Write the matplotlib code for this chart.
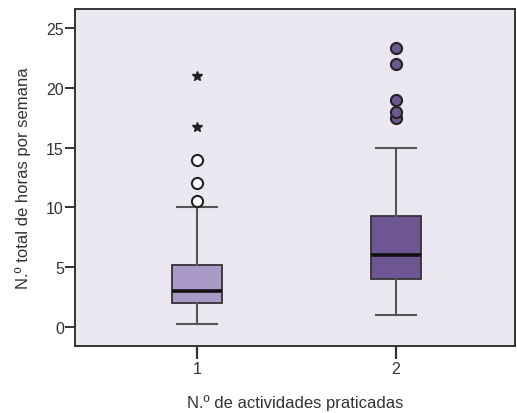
import matplotlib
matplotlib.use("Agg")
import matplotlib.pyplot as plt

plt.rcParams['font.family'] = ['Liberation Sans', 'DejaVu Sans']

categories = ["1", "2"]
whislo = [0.2, 1.0]
q1 = [2.0, 4.0]
med = [3.0, 6.0]
q3 = [5.2, 9.25]
whishi = [10.0, 15.0]
outliers_1 = [10.5, 12.0, 14.0]
extremes_1 = [16.7, 21.0]
outliers_2 = [17.5, 18.0, 19.0, 22.0, 23.3]
extremes_2 = []
box_colors = ["#A899C6", "#6E5694"]
outlier_faces = ["white", "#6E5694"]

fig = plt.figure(figsize=(5.17, 4.14), dpi=100)
ax = fig.add_axes([0.145, 0.162, 0.851, 0.814])
ax.set_facecolor("#ECE8F1")

stats = []
for i in range(2):
    stats.append(dict(whislo=whislo[i], q1=q1[i], med=med[i], q3=q3[i],
                      whishi=whishi[i], fliers=[], label=categories[i]))
positions = [1, 2]
bp = ax.bxp(stats, positions=positions, widths=0.255, patch_artist=True,
            showfliers=False,
            boxprops=dict(edgecolor="#333333", linewidth=1.3),
            medianprops=dict(color="#111111", linewidth=2.6),
            whiskerprops=dict(color="#555555", linewidth=1.5),
            capprops=dict(color="#555555", linewidth=1.5),
            capwidths=0.2)
for patch, c in zip(bp['boxes'], box_colors):
    patch.set_facecolor(c)

outs = [outliers_1, outliers_2]
exts = [extremes_1, extremes_2]
for i, p in enumerate(positions):
    if outs[i]:
        ax.plot([p] * len(outs[i]), outs[i], linestyle='none', marker='o',
                markersize=8, markerfacecolor=outlier_faces[i],
                markeredgecolor="#222222", markeredgewidth=1.5, zorder=5)
    if exts[i]:
        ax.plot([p] * len(exts[i]), exts[i], linestyle='none', marker='*',
                markersize=7.5, color="#222222", zorder=5)

ax.set_xlim(0.387, 2.598)
ax.set_ylim(-1.6, 26.6)
ax.set_yticks([0, 5, 10, 15, 20, 25])
ax.set_xticks(positions)
ax.set_xticklabels(categories)
for s in ax.spines.values():
    s.set_color("#333333")
    s.set_linewidth(1.4)
ax.tick_params(axis='y', length=7, width=1.4, color="#333333", labelsize=11.5, pad=1, labelcolor="#333333")
ax.tick_params(axis='x', length=9, width=1.6, color="#333333", labelsize=11.5, pad=2, labelcolor="#333333")
ax.set_ylabel("N.º total de horas por semana", fontsize=12, color="#333333", labelpad=11)
ax.set_xlabel("N.º de actividades praticadas", fontsize=12, color="#333333", labelpad=13)

fig.savefig("out.png", dpi=100)
